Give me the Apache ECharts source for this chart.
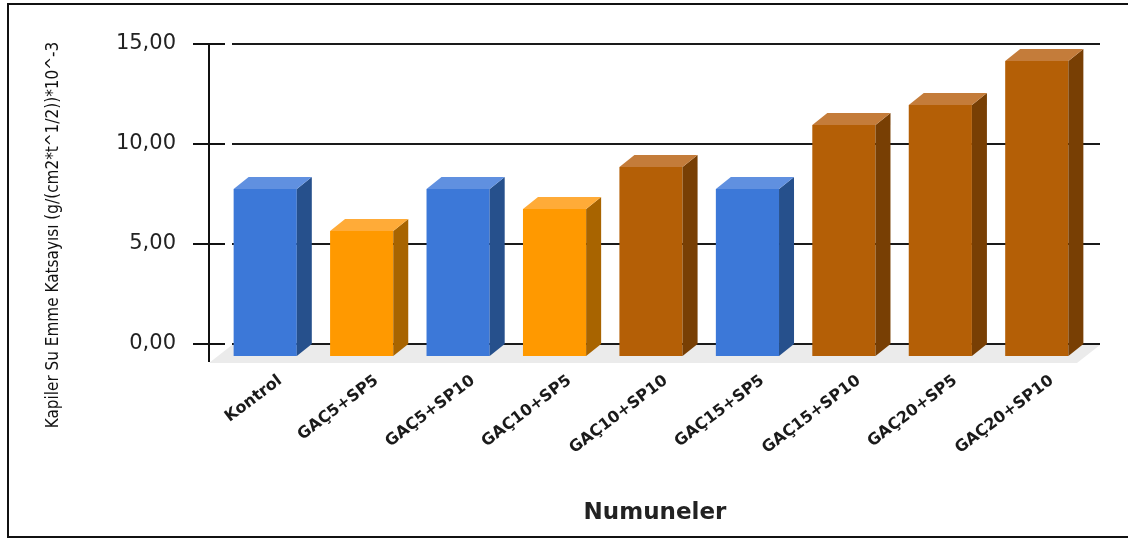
<!DOCTYPE html>
<html>
<head>
<meta charset="utf-8">
<style>
    html, body { margin: 0; padding: 0; background: #fff; }
    .chart {
        display: block;
        width: 1128px;
        height: 543px;
    }
</style>
<script src="https://cdn.jsdelivr.net/npm/echarts@6/dist/echarts.min.js"></script>
</head>
<body>
<section id="chart_main" class="chart"></section>
<script>
// categories
const categories = ['Kontrol', 'GAÇ5+SP5', 'GAÇ5+SP10', 'GAÇ10+SP5', 'GAÇ10+SP10', 'GAÇ15+SP5', 'GAÇ15+SP10', 'GAÇ20+SP5', 'GAÇ20+SP10'];
// values
const values = [8.35, 6.25, 8.35, 7.35, 9.45, 8.35, 11.55, 12.55, 14.75];
// which colour group each bar belongs to
const groups = ['blue', 'orange', 'blue', 'orange', 'brown', 'blue', 'brown', 'brown', 'brown'];
// y tick labels
const yTicks = ['0,00', '5,00', '10,00', '15,00'];

// palette: front / side / top face
const palette = {
    blue: { front: '#3c78d8', side: '#26508c', top: '#6090e0' },
    orange: { front: '#ff9900', side: '#a86400', top: '#ffab38' },
    brown: { front: '#b45f06', side: '#783f04', top: '#c47c3a' },
};
// depth of the fake 3d
const DX = 15, DY = 12;
const FONT = 'DejaVu Sans';

let chart_obj = echarts.init(document.getElementById('chart_main'));

// one 3d bar: front rect, side and top parallelograms
function renderBar(params, api) {
    const idx = api.value(0);
    const base = api.coord([idx, 0]);
    const top = api.coord([idx, api.value(1)]);
    const w = api.size([1, 0])[0] * 0.655;
    const c = palette[groups[idx]];
    // front face is pushed left/down from the back wall
    const fx = base[0] - w / 2 - DX;
    const fy0 = base[1] + DY;
    const fy1 = top[1] + DY;
    return {
        type: 'group',
        children: [
            { type: 'rect', shape: { x: fx, y: fy1, width: w, height: fy0 - fy1 }, style: { fill: c.front } },
            {
                type: 'polygon',
                shape: { points: [[fx + w, fy1], [fx + w + DX, fy1 - DY], [fx + w + DX, fy0 - DY], [fx + w, fy0]] },
                style: { fill: c.side }
            },
            {
                type: 'polygon',
                shape: { points: [[fx, fy1], [fx + DX, fy1 - DY], [fx + w + DX, fy1 - DY], [fx + w, fy1]] },
                style: { fill: c.top }
            }
        ]
    };
}

// grey floor under the bars + the bit of y axis line below 0
function renderFloor(params, api) {
    const cs = params.coordSys;
    const yb = cs.y + cs.height;
    return {
        type: 'group',
        children: [
            {
                type: 'polygon',
                shape: { points: [[cs.x, yb + 1], [cs.x + cs.width, yb + 1], [cs.x + cs.width - 23, yb + 19], [cs.x - 23, yb + 19]] },
                style: { fill: '#ebebeb' }
            },
            { type: 'line', shape: { x1: cs.x - 23, y1: yb, x2: cs.x - 23, y2: yb + 18 }, style: { stroke: '#111', lineWidth: 2 } }
        ]
    };
}

const default_y = {
    type: 'value',
    min: 0,
    max: 15,
    interval: 5,
    position: 'left',
    offset: 23,
    axisLine: { show: false },
    axisLabel: { show: false },
    splitLine: { show: false },
};

let yAxis = echarts.util.clone(default_y);
yAxis.axisLine = { show: true, lineStyle: { color: '#111', width: 2 } };
yAxis.axisTick = { show: true, length: 16, lineStyle: { color: '#111', width: 2 } };
yAxis.axisLabel = {
    show: true,
    margin: 33,
    color: '#222',
    fontFamily: FONT,
    fontSize: 21,
    formatter: v => yTicks[Math.round(v / 5)]
};
yAxis.splitLine = { show: true, lineStyle: { color: '#1a1a1a', width: 2 } };

// second axis only for the ticks poking to the right
let yAxis2 = echarts.util.clone(default_y);
yAxis2.axisTick = { show: true, inside: true, length: 16, lineStyle: { color: '#111', width: 2 } };

let option = {
    animation: false,
    grid: { left: 232, right: 28, top: 44, bottom: 199 },
    xAxis: {
        type: 'category',
        data: categories,
        axisLine: { show: false },
        axisTick: { show: false },
        axisLabel: {
            interval: 0,
            rotate: 37,
            margin: 35,
            color: '#1a1a1a',
            fontFamily: FONT,
            fontWeight: 'bold',
            fontSize: 16
        },
        name: 'Numuneler',
        nameLocation: 'middle',
        nameGap: 158,
        nameTextStyle: {
            color: '#222',
            fontFamily: FONT,
            fontWeight: 'bold',
            fontSize: 23,
            padding: [0, 22, 0, 0]
        }
    },
    yAxis: [yAxis, yAxis2],
    graphic: [
        // outer frame
        { type: 'rect', shape: { x: 8, y: 4, width: 1130, height: 533 }, style: { fill: 'none', stroke: '#111', lineWidth: 2 } },
        {
            type: 'text',
            x: 54,
            y: 235,
            rotation: Math.PI / 2,
            style: {
                text: 'Kapiler Su Emme Katsayısı (g/(cm2*t^1/2))*10^-3',
                fill: '#111',
                font: '17px "DejaVu Sans Condensed"',
                align: 'center',
                verticalAlign: 'middle'
            }
        }
    ],
    series: [
        {
            type: 'custom',
            renderItem: renderFloor,
            data: [[0, 0]],
            silent: true,
            z: 1
        },
        {
            type: 'custom',
            renderItem: renderBar,
            data: values.map((v, i) => [i, v]),
            z: 2
        }
    ]
};

chart_obj.setOption(option);
</script>
</body>
</html>
